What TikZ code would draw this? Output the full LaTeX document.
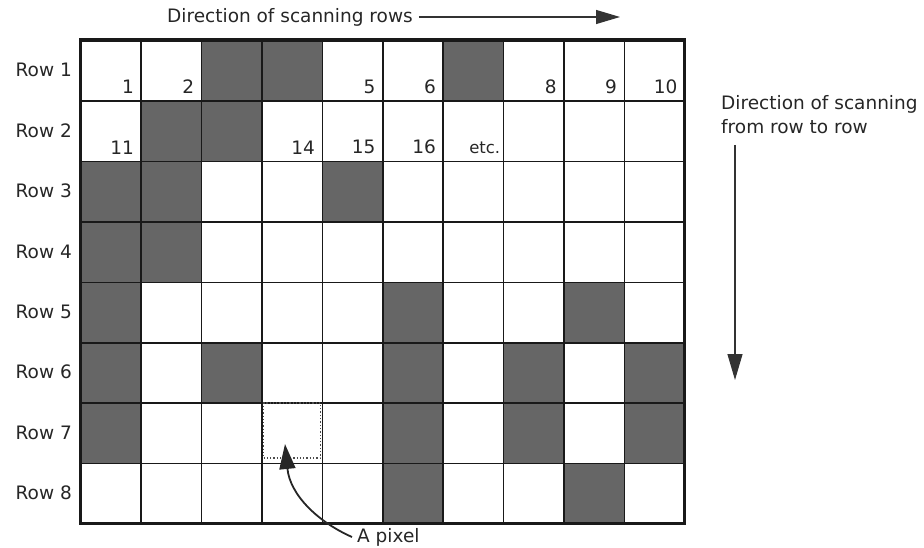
\documentclass[tikz,border=0pt]{standalone}
\usepackage{fontspec}
\setmainfont{DejaVu Sans}
\usetikzlibrary{arrows.meta}
\usetikzlibrary{positioning}

\begin{document}
\begin{tikzpicture}[x=1pt, y=-1pt,
  cell/.style={draw=black!90, line width=1.6pt, minimum width=60.4pt, minimum height=60.4pt, inner sep=0pt, anchor=north west},
  dark/.style={cell, fill=black!60},
  lbl/.style={font=\fontsize{18.5}{24}\selectfont, text=black!85, inner sep=0pt},
  num/.style={font=\fontsize{18.5}{22}\selectfont, text=black!85, inner sep=0pt, anchor=south east, xshift=-8pt, yshift=8pt}]
  \useasboundingbox (0,0) rectangle (924,548);

  % shaded pixels
  \foreach \r/\c in {1/3,1/4,1/7, 2/2,2/3, 3/1,3/2,3/5, 4/1,4/2, 5/1,5/6,5/9,
                     6/1,6/3,6/6,6/8,6/10, 7/1,7/6,7/8,7/10, 8/6,8/9}
    \node[dark] (s\r-\c) at ({80+(\c-1)*60.4},{40+(\r-1)*60.4}) {};

  % the grid
  \foreach \r in {1,...,8}
    \foreach \c in {1,...,10}
      \node[cell] (c\r-\c) at ({80+(\c-1)*60.4},{40+(\r-1)*60.4}) {};
  \draw[line width=3pt, black!90] (80,40) rectangle (684,523);

  % row labels
  \foreach \r in {1,...,8}
    \node[lbl, anchor=east] (row\r) at ({72},{40+(\r-0.5)*60.4}) {Row \r};

  % pixel numbers
  \foreach \c/\n in {1/1,2/2,5/5,6/6,8/8,9/9,10/10}
    \node[num] (n1-\c) at (c1-\c.south east) {\n};
  \foreach \c/\n in {1/11,4/14,5/15,6/16}
    \node[num] (n2-\c) at (c2-\c.south east) {\n};
  \node[num, xshift=4pt, font=\fontsize{16.5}{20}\selectfont] (etc) at (c2-7.south east) {etc.};

  % scanning direction along rows
  \node[lbl, anchor=west] (dirrows) at (167,17) {Direction of scanning rows};
  \coordinate (rowend) at (620,17);
  \draw[black!80, line width=1.2pt, -{Triangle[length=24pt, width=14pt]}] ([xshift=6pt]dirrows.east) -- (rowend);

  % scanning direction from row to row
  \node[lbl, anchor=north west, align=left] (dircols) at (721,95) {Direction of scanning\\from row to row};
  \coordinate (colstart) at (735,145);
  \coordinate (colend) at (735,380);
  \draw[black!80, line width=1.2pt, -{Triangle[length=26pt, width=15pt]}] (colstart) -- (colend);

  % one pixel
  \node[draw=black!70, dotted, line width=1.3pt, minimum width=57pt, minimum height=55pt, inner sep=0pt] (pixel) at (292,430.5) {};
  \node[lbl, anchor=west] (pixlbl) at (357,537) {A pixel};
  \draw[black!85, line width=1.8pt, -{Triangle[length=25pt, width=16pt]}] ([xshift=-5pt]pixlbl.west) .. controls (318,522) and (290,495) .. (285,444);
\end{tikzpicture}
\end{document}
